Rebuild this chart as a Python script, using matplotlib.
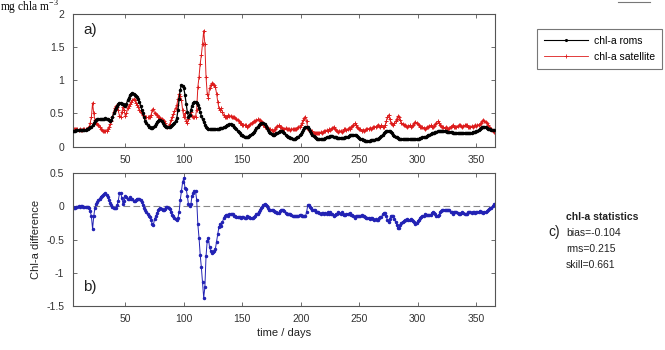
import numpy as np
import matplotlib
matplotlib.use('Agg')
from matplotlib import pyplot as plt
from matplotlib.lines import Line2D

plt.rcParams['font.family'] = ['Liberation Sans', 'DejaVu Sans']

# day of year for every value
days = list(range(5, 366))

# modelled chlorophyll (black), one value per day, rows of 10 days starting at day 5
chl_roms = [
    0.23, 0.24, 0.24, 0.25, 0.25, 0.25, 0.25, 0.25, 0.25, 0.25,
    0.25, 0.25, 0.26, 0.27, 0.28, 0.29, 0.30, 0.32, 0.35, 0.38,
    0.40, 0.41, 0.42, 0.42, 0.42, 0.41, 0.41, 0.42, 0.43, 0.42,
    0.41, 0.40, 0.39, 0.40, 0.44, 0.50, 0.55, 0.59, 0.62, 0.64,
    0.66, 0.66, 0.65, 0.64, 0.63, 0.62, 0.65, 0.70, 0.74, 0.78,
    0.80, 0.81, 0.80, 0.78, 0.76, 0.75, 0.72, 0.68, 0.62, 0.56,
    0.50, 0.44, 0.39, 0.35, 0.32, 0.30, 0.29, 0.28, 0.28, 0.29,
    0.31, 0.34, 0.37, 0.39, 0.40, 0.40, 0.38, 0.35, 0.33, 0.31,
    0.30, 0.29, 0.29, 0.30, 0.31, 0.32, 0.34, 0.36, 0.39, 0.43,
    0.55, 0.72, 0.86, 0.93, 0.92, 0.88, 0.78, 0.65, 0.52, 0.45,
    0.48, 0.55, 0.62, 0.66, 0.68, 0.68, 0.66, 0.63, 0.58, 0.52,
    0.46, 0.41, 0.37, 0.33, 0.30, 0.28, 0.27, 0.26, 0.26, 0.26,
    0.26, 0.26, 0.26, 0.27, 0.27, 0.27, 0.28, 0.28, 0.28, 0.29,
    0.30, 0.31, 0.32, 0.33, 0.34, 0.34, 0.33, 0.32, 0.30, 0.28,
    0.26, 0.24, 0.22, 0.20, 0.18, 0.17, 0.16, 0.15, 0.15, 0.15,
    0.15, 0.16, 0.17, 0.19, 0.20, 0.22, 0.25, 0.28, 0.30, 0.32,
    0.34, 0.35, 0.35, 0.35, 0.34, 0.31, 0.28, 0.25, 0.22, 0.20,
    0.19, 0.18, 0.18, 0.19, 0.20, 0.21, 0.22, 0.23, 0.23, 0.23,
    0.22, 0.20, 0.18, 0.16, 0.15, 0.14, 0.13, 0.13, 0.12, 0.12,
    0.12, 0.13, 0.14, 0.15, 0.17, 0.19, 0.22, 0.25, 0.28, 0.30,
    0.30, 0.29, 0.27, 0.24, 0.21, 0.18, 0.16, 0.14, 0.13, 0.12,
    0.11, 0.11, 0.11, 0.11, 0.12, 0.12, 0.13, 0.14, 0.15, 0.15,
    0.16, 0.16, 0.16, 0.15, 0.14, 0.14, 0.13, 0.13, 0.13, 0.13,
    0.13, 0.13, 0.13, 0.14, 0.14, 0.15, 0.16, 0.17, 0.17, 0.18,
    0.18, 0.18, 0.17, 0.16, 0.14, 0.13, 0.12, 0.11, 0.10, 0.10,
    0.09, 0.09, 0.09, 0.09, 0.09, 0.10, 0.10, 0.10, 0.10, 0.11,
    0.11, 0.12, 0.13, 0.14, 0.16, 0.18, 0.20, 0.22, 0.23, 0.24,
    0.24, 0.23, 0.22, 0.20, 0.18, 0.16, 0.15, 0.14, 0.13, 0.12,
    0.12, 0.11, 0.11, 0.11, 0.11, 0.11, 0.11, 0.11, 0.11, 0.11,
    0.11, 0.11, 0.11, 0.11, 0.11, 0.12, 0.12, 0.13, 0.13, 0.14,
    0.14, 0.15, 0.15, 0.16, 0.17, 0.18, 0.19, 0.20, 0.21, 0.21,
    0.22, 0.22, 0.23, 0.23, 0.24, 0.24, 0.24, 0.24, 0.23, 0.23,
    0.22, 0.22, 0.22, 0.22, 0.22, 0.21, 0.21, 0.21, 0.21, 0.21,
    0.21, 0.21, 0.21, 0.21, 0.21, 0.21, 0.21, 0.21, 0.21, 0.21,
    0.21, 0.21, 0.22, 0.22, 0.22, 0.23, 0.24, 0.25, 0.27, 0.28,
    0.29, 0.30, 0.30, 0.29, 0.28, 0.27, 0.26, 0.26, 0.25, 0.25,
    0.25,
]

# satellite chlorophyll (red), same days
chl_sat = [
    0.24, 0.26, 0.27, 0.26, 0.26, 0.25, 0.26, 0.25, 0.25, 0.26,
    0.26, 0.26, 0.27, 0.28, 0.30, 0.36, 0.45, 0.66, 0.50, 0.40,
    0.36, 0.34, 0.32, 0.30, 0.27, 0.25, 0.24, 0.23, 0.23, 0.24,
    0.27, 0.30, 0.34, 0.38, 0.45, 0.52, 0.58, 0.62, 0.60, 0.55,
    0.46, 0.45, 0.52, 0.60, 0.55, 0.46, 0.50, 0.58, 0.62, 0.64,
    0.68, 0.70, 0.72, 0.70, 0.66, 0.63, 0.60, 0.56, 0.52, 0.50,
    0.48, 0.46, 0.44, 0.44, 0.44, 0.44, 0.45, 0.48, 0.55, 0.57,
    0.50, 0.49, 0.47, 0.45, 0.44, 0.43, 0.42, 0.40, 0.38, 0.35,
    0.31, 0.30, 0.31, 0.34, 0.40, 0.45, 0.49, 0.53, 0.58, 0.63,
    0.72, 0.80, 0.76, 0.70, 0.55, 0.45, 0.50, 0.38, 0.36, 0.42,
    0.48, 0.52, 0.46, 0.45, 0.44, 0.45, 0.56, 0.90, 1.05, 1.25,
    1.38, 1.55, 1.75, 1.55, 1.05, 0.80, 0.74, 0.88, 0.93, 0.96,
    0.95, 0.93, 0.90, 0.80, 0.68, 0.58, 0.55, 0.58, 0.52, 0.47,
    0.45, 0.44, 0.45, 0.47, 0.46, 0.46, 0.45, 0.44, 0.44, 0.43,
    0.42, 0.40, 0.38, 0.36, 0.35, 0.33, 0.32, 0.33, 0.32, 0.30,
    0.31, 0.32, 0.34, 0.36, 0.37, 0.38, 0.39, 0.40, 0.41, 0.40,
    0.40, 0.38, 0.36, 0.33, 0.30, 0.29, 0.28, 0.28, 0.27, 0.26,
    0.25, 0.24, 0.25, 0.27, 0.29, 0.31, 0.32, 0.30, 0.29, 0.28,
    0.27, 0.27, 0.28, 0.27, 0.26, 0.26, 0.25, 0.26, 0.27, 0.26,
    0.26, 0.27, 0.28, 0.29, 0.30, 0.32, 0.36, 0.40, 0.43, 0.45,
    0.38, 0.27, 0.25, 0.25, 0.24, 0.23, 0.21, 0.20, 0.21, 0.20,
    0.20, 0.21, 0.22, 0.21, 0.22, 0.24, 0.23, 0.25, 0.24, 0.26,
    0.25, 0.27, 0.28, 0.30, 0.27, 0.25, 0.24, 0.22, 0.23, 0.24,
    0.22, 0.24, 0.26, 0.27, 0.25, 0.26, 0.28, 0.27, 0.30, 0.31,
    0.33, 0.35, 0.32, 0.30, 0.28, 0.27, 0.26, 0.24, 0.25, 0.24,
    0.25, 0.26, 0.26, 0.27, 0.28, 0.27, 0.28, 0.29, 0.30, 0.30,
    0.31, 0.33, 0.31, 0.30, 0.32, 0.30, 0.30, 0.32, 0.38, 0.44,
    0.48, 0.42, 0.36, 0.34, 0.33, 0.35, 0.38, 0.42, 0.46, 0.44,
    0.40, 0.36, 0.34, 0.33, 0.32, 0.31, 0.30, 0.31, 0.32, 0.30,
    0.31, 0.33, 0.35, 0.37, 0.36, 0.34, 0.32, 0.30, 0.29, 0.29,
    0.28, 0.27, 0.28, 0.29, 0.30, 0.31, 0.32, 0.30, 0.29, 0.31,
    0.34, 0.36, 0.38, 0.36, 0.33, 0.31, 0.30, 0.29, 0.28, 0.29,
    0.28, 0.27, 0.28, 0.30, 0.31, 0.32, 0.30, 0.29, 0.30, 0.31,
    0.32, 0.33, 0.31, 0.30, 0.31, 0.32, 0.33, 0.32, 0.30, 0.29,
    0.30, 0.31, 0.30, 0.31, 0.32, 0.31, 0.32, 0.33, 0.34, 0.36,
    0.38, 0.40, 0.39, 0.37, 0.35, 0.33, 0.30, 0.28, 0.27, 0.24,
    0.22,
]

stats_lines = ['bias=-0.104', 'rms=0.215', 'skill=0.661']

top_ticks = [0, 0.5, 1, 1.5, 2]
bot_ticks = [-1.5, -1, -0.5, 0, 0.5]
x_ticks = [50, 100, 150, 200, 250, 300, 350]

roms = np.array(chl_roms)
sat = np.array(chl_sat)
diff = roms - sat

fig = plt.figure(figsize=(6.65, 3.5), dpi=100)
ax1 = fig.add_axes([0.1093, 0.581, 0.635, 0.379])
ax2 = fig.add_axes([0.1093, 0.1266, 0.635, 0.378])

def style(ax):
	ax.set_xlim(5, 366)
	ax.set_xticks(x_ticks)
	ax.tick_params(direction='in', top=True, right=True, labelsize=7.5,
	               length=3, width=0.6, colors='#555555', labelcolor='#333333', pad=6)
	for s in ax.spines.values():
		s.set_color('#555555')
		s.set_linewidth(0.8)

# a) chlorophyll
ax1.plot(days, sat, '-', color='#dd1c1c', lw=0.7, marker='+', ms=2.8, mew=0.7, label='chl-a satellite', zorder=2)
ax1.plot(days, roms, '-', color='black', lw=0.9, marker='.', ms=3, label='chl-a roms', zorder=3)
ax1.set_ylim(0, 2)
ax1.set_yticks(top_ticks)
ax1.set_yticklabels(['0', '0.5', '1', '1.5', '2'])
style(ax1)
ax1.text(0.025, 0.88, 'a)', transform=ax1.transAxes, fontsize=11, color='#222222', va='center')

# b) difference
ax2.axhline(0, color='#888888', lw=0.8, ls=(0, (6, 3)), zorder=1)
ax2.plot(days, diff, '-', color='#2222b4', lw=0.7, marker='.', ms=3, zorder=2)
ax2.set_ylim(-1.5, 0.5)
ax2.set_yticks(bot_ticks)
ax2.set_yticklabels(['-1.5', '-1', '-0.5', '0', '0.5'])
style(ax2)
ax2.text(0.025, 0.14, 'b)', transform=ax2.transAxes, fontsize=11, color='#222222', va='center')
ax2.set_ylabel('Chl-a difference', fontsize=8, color='#222222', labelpad=4)
ax2.set_xlabel('time / days', fontsize=8, color='#222222', labelpad=3)

# legend in its own box to the right
handles = [Line2D([], [], color='black', lw=0.8, marker='.', ms=2.5),
           Line2D([], [], color='#dd1c1c', lw=0.6, marker='+', ms=2.5, mew=0.6)]
leg = fig.legend(handles, ['chl-a roms', 'chl-a satellite'], loc='upper left',
                 bbox_to_anchor=(537 / 665, 1 - 29 / 350), fontsize=7.5, frameon=True,
                 fancybox=False, edgecolor='#555555', handlelength=4.2, borderpad=0.65,
                 labelspacing=0.6, handletextpad=0.6, borderaxespad=0)
leg.get_frame().set_linewidth(0.8)

# units label, top left
fig.text(0.0, 1 - 8 / 350, 'mg chla m$^{\\mathregular{-3}}$', family='Liberation Serif',
         fontsize=8.3, va='center', ha='left')

# c) statistics
fig.text(548 / 665, 1 - 232 / 350, 'c)', fontsize=10, va='center', ha='left', color='#222222')
fig.text(566 / 665, 1 - 217 / 350, 'chl-a statistics', fontsize=7.5, weight='bold',
         va='center', ha='left', color='#222222')
for i, line in enumerate(stats_lines):
	fig.text(566 / 665, 1 - (233 + 16 * i) / 350, line, fontsize=7.5, va='center',
	         ha='left', color='#222222')

# leftover box edge at the top right
fig.add_artist(Line2D([618 / 665, 650 / 665], [1 - 2 / 350, 1 - 2 / 350], color='#777777', lw=0.8))

fig.savefig('out.png', dpi=100)
